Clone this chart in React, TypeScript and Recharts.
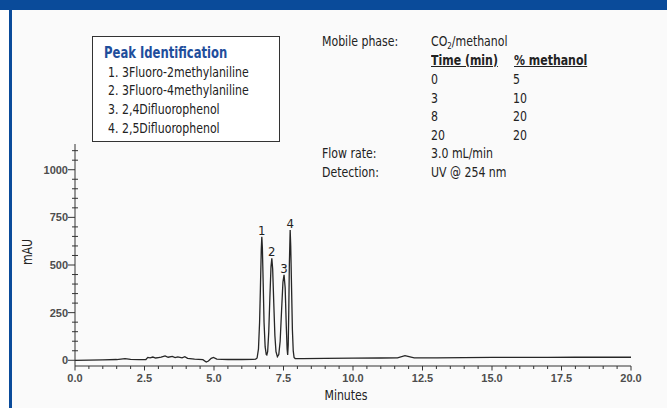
import { LineChart, Line, XAxis, YAxis, ReferenceDot } from "recharts"

// chromatogram readings (minutes, mAU)
const times = [
  0, 0.5, 1.0, 1.5, 1.8, 2.0, 2.3, 2.55, 2.62, 2.7, 2.8, 2.9, 3.0, 3.1, 3.24, 3.35, 3.5, 3.6, 3.7, 3.85, 3.95,
  4.05, 4.3, 4.6, 4.72, 4.8, 4.9, 4.98, 5.1, 5.5, 6.0, 6.4, 6.5,
  6.55, 6.6, 6.64, 6.67, 6.7, 6.72, 6.74, 6.77, 6.8, 6.84, 6.88, 6.9,
  6.93, 6.97, 7.01, 7.05, 7.08, 7.11, 7.15, 7.19, 7.23, 7.28,
  7.33, 7.38, 7.43, 7.48, 7.52, 7.56, 7.6, 7.63, 7.65,
  7.67, 7.69, 7.71, 7.74, 7.76, 7.79, 7.82, 7.85, 7.88, 7.92,
  8.2, 9.0, 10.0, 11.0, 11.6, 11.87, 12.2, 13.0, 14.0, 15.0, 16.0, 17.0, 18.0, 19.0, 20.0,
]
const mau = [
  0, 1, 2, 4, 9, 5, 3, 4, 15, 13, 17, 12, 14, 16, 23, 16, 20, 14, 18, 13, 19,
  10, 6, 3, -9, -4, 10, 15, 6, 4, 4, 5, 6,
  12, 60, 200, 380, 580, 648, 590, 400, 200, 70, 30, 28,
  45, 150, 330, 490, 535, 480, 300, 130, 45, 19,
  30, 100, 260, 410, 448, 380, 180, 60, 28,
  80, 260, 500, 684, 600, 380, 160, 50, 15, 9,
  9, 10, 11, 12, 13, 24, 13, 13, 14, 15, 15, 15, 16, 16, 16,
]

const peakNames = ["1", "2", "3", "4"]
const peakTimes = [6.72, 7.08, 7.52, 7.74]
const peakHeights = [648, 535, 448, 684]

const xTicks = [
  0, 0.5, 1, 1.5, 2, 2.5, 3, 3.5, 4, 4.5, 5, 5.5, 6, 6.5, 7, 7.5, 8, 8.5, 9, 9.5, 10,
  10.5, 11, 11.5, 12, 12.5, 13, 13.5, 14, 14.5, 15, 15.5, 16, 16.5, 17, 17.5, 18, 18.5, 19, 19.5, 20,
]
const xMajor = [0, 2.5, 5, 7.5, 10, 12.5, 15, 17.5, 20]
const yTicks = [0, 50, 100, 150, 200, 250, 300, 350, 400, 450, 500, 550, 600, 650, 700, 750, 800, 850, 900, 950, 1000, 1050, 1100]
const yMajor = [0, 250, 500, 750, 1000]

const peakList = [
  "1. 3Fluoro-2methylaniline",
  "2. 3Fluoro-4methylaniline",
  "3. 2,4Difluorophenol",
  "4. 2,5Difluorophenol",
]
const gradientTimes = ["0", "3", "8", "20"]
const gradientMethanol = ["5", "10", "20", "20"]

const data = times.map((t, i) => ({ t, mau: mau[i] }))

const narrow = "'DejaVu Sans Condensed', 'Liberation Sans Narrow', sans-serif"
const tickFont = "'Liberation Sans', Arial, sans-serif"

const XTick = ({ x, y, payload }: any) => {
  const major = xMajor.includes(payload.value)
  return (
    <g>
      <line x1={x} x2={x} y1={y} y2={y + (major ? 4.5 : 3)} stroke="#333" strokeWidth={1} />
      {major && (
        <text x={x} y={y + 16} textAnchor="middle" fontFamily={tickFont} fontSize={11} fontWeight="bold" fill="#4d4d4d">
          {payload.value.toFixed(1)}
        </text>
      )}
    </g>
  )
}

const YTick = ({ x, y, payload }: any) => {
  const major = yMajor.includes(payload.value)
  return (
    <g>
      <line x1={major ? x - 7 : x - 3} x2={major ? x : x + 3} y1={y} y2={y} stroke="#333" strokeWidth={1} />
      {major && (
        <text x={x - 7} y={y + 4} textAnchor="end" fontFamily={tickFont} fontSize={11} fontWeight="bold" fill="#4d4d4d">
          {payload.value}
        </text>
      )}
    </g>
  )
}

// condensed text: DejaVu Condensed squeezed a little to match the narrow face
const txt = (left: number, cy: number, extra: any = {}) => ({
  position: "absolute" as const,
  left,
  top: cy - 9,
  lineHeight: "18px",
  fontFamily: narrow,
  fontSize: 14,
  color: "#222",
  whiteSpace: "nowrap" as const,
  transform: "scaleX(0.87)",
  transformOrigin: "left center",
  ...extra,
})

const rowY = [79, 97.5, 116, 134.5]
const listY = [72.3, 90, 109, 127.7]

export default function App() {
  return (
    <div style={{ position: "absolute", left: 0, top: 0, width: 667, height: 408, background: "#fff", overflow: "hidden" }}>
      <div style={{ position: "absolute", left: 11, top: 9, width: 656, height: 399, background: "#fafafa" }} />
      <div style={{ position: "absolute", left: 0, top: 0, width: 667, height: 9.5, background: "#0a4b9a" }} />
      <div style={{ position: "absolute", left: 9, top: 9, width: 2.5, height: 399, background: "#0a4b9a" }} />

      <div style={{ position: "absolute", left: 0, top: 0 }}>
        <LineChart width={667} height={408} data={data} margin={{ top: 144, right: 36, bottom: 12, left: 0 }}>
          <XAxis
            dataKey="t"
            type="number"
            domain={[0, 20]}
            ticks={xTicks}
            interval={0}
            tick={<XTick />}
            tickSize={0}
            tickMargin={0}
            tickLine={false}
            axisLine={{ stroke: "#333", strokeWidth: 1 }}
            height={30}
          />
          <YAxis
            type="number"
            domain={[-30, 1135]}
            ticks={yTicks}
            interval={0}
            tick={<YTick />}
            tickSize={0}
            tickMargin={0}
            tickLine={false}
            axisLine={{ stroke: "#333", strokeWidth: 1 }}
            width={75}
          />
          <Line
            type="linear"
            dataKey="mau"
            stroke="#262626"
            strokeWidth={1.3}
            dot={false}
            isAnimationActive={false}
          />
          {peakNames.map((name, i) => (
            <ReferenceDot
              key={name}
              x={peakTimes[i]}
              y={peakHeights[i]}
              r={0}
              stroke="none"
              fill="none"
              label={{ value: name, position: "top", offset: 2, fill: "#222", fontSize: 13, fontFamily: narrow }}
            />
          ))}
        </LineChart>
      </div>

      {/* peak identification box */}
      <div style={{ position: "absolute", left: 92, top: 35.5, width: 186, height: 104, border: "1.5px solid #333", background: "#fff" }} />
      <div style={txt(104, 52.7, { fontWeight: "bold", color: "#1f4e9c", fontSize: 15, transform: "scaleX(0.86)" })}>Peak Identification</div>
      {peakList.map((s, i) => (
        <div key={s} style={txt(108, listY[i])}>{s}</div>
      ))}

      {/* conditions */}
      <div style={txt(321.5, 41)}>Mobile phase:</div>
      <div style={txt(431, 41)}>
        CO<sub style={{ fontSize: 9, verticalAlign: "-3px", lineHeight: 0 }}>2</sub>/methanol
      </div>
      <div style={txt(431, 59.5, { fontWeight: "bold", textDecoration: "underline" })}>Time (min)</div>
      <div style={txt(514, 59.5, { fontWeight: "bold", textDecoration: "underline" })}>% methanol</div>
      {gradientTimes.map((t, i) => (
        <div key={"t" + i} style={txt(431, rowY[i])}>{t}</div>
      ))}
      {gradientMethanol.map((m, i) => (
        <div key={"m" + i} style={txt(513, rowY[i])}>{m}</div>
      ))}
      <div style={txt(321.5, 153)}>Flow rate:</div>
      <div style={txt(431, 153)}>3.0 mL/min</div>
      <div style={txt(321.5, 171.5)}>Detection:</div>
      <div style={txt(431, 171.5)}>UV @ 254 nm</div>

      {/* axis titles */}
      <div style={txt(306, 395, { width: 80, textAlign: "center", transformOrigin: "center" })}>Minutes</div>
      <div style={txt(7, 252, { width: 40, textAlign: "center", transform: "rotate(-90deg) scaleX(0.87)", transformOrigin: "center" })}>mAU</div>
    </div>
  )
}
